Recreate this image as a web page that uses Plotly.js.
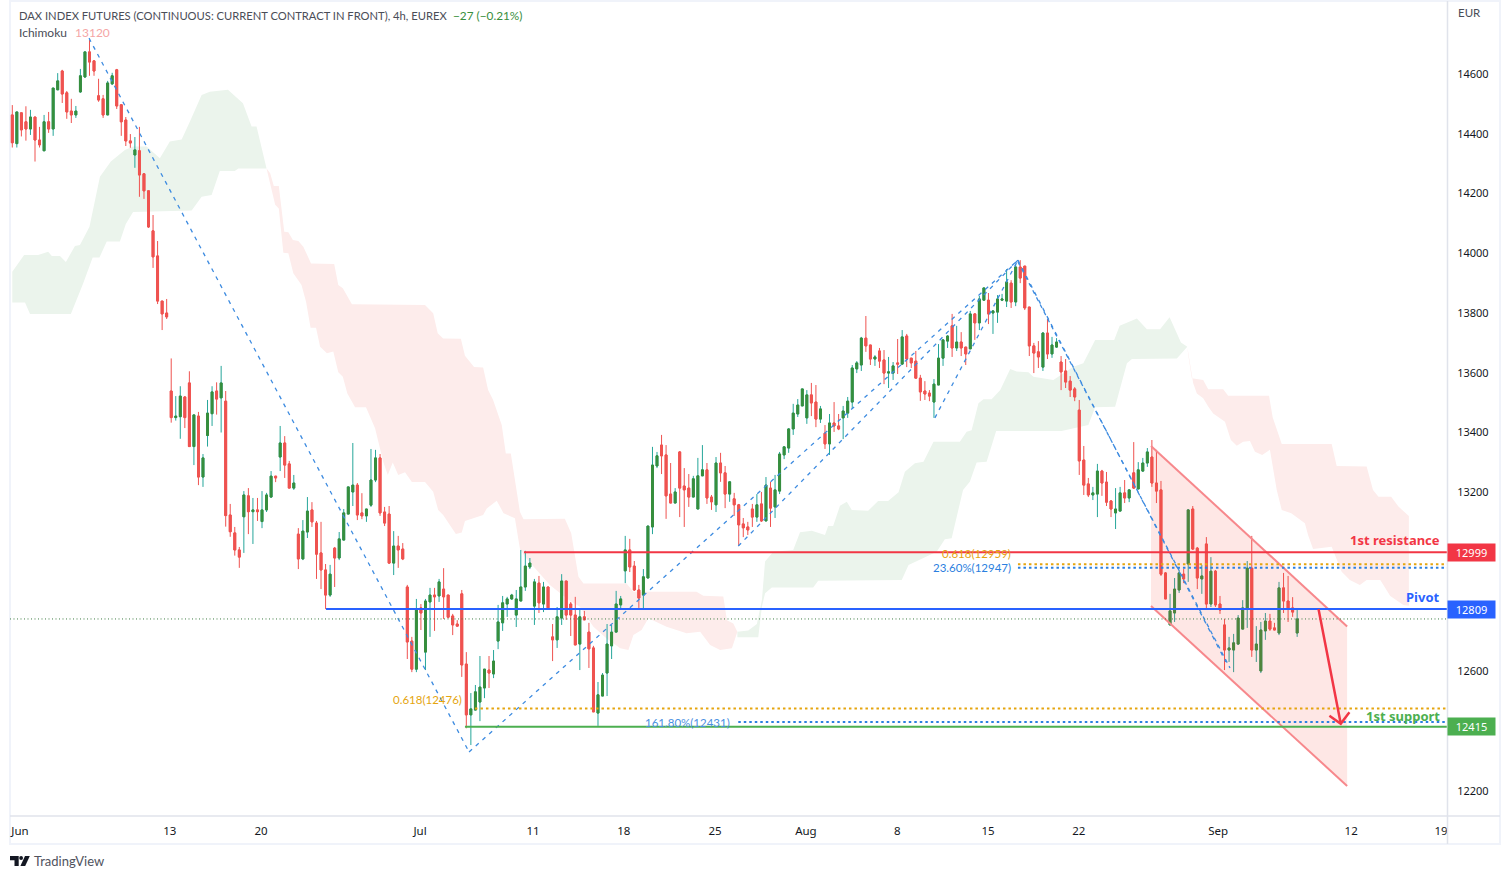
<!DOCTYPE html>
<html><head><meta charset="utf-8">
<script src="https://cdn.plot.ly/plotly-3.0.1.min.js"></script>
<style>html,body{margin:0;padding:0;background:#fff;overflow:hidden}#chart{width:1502px;height:878px}</style>
</head><body><div id="chart"></div>
<script>
const opens=[14463,14367,14470,14440,14416,14456,14379,14343,14440,14416,
14547,14610,14537,14476,14463,14540,14590,14674,14644,14527,
14517,14463,14567,14614,14497,14446,14376,14329,14343,14266,
14209,14075,13991,13840,13800,13539,13450,13453,13519,13566,
13353,13455,13251,13390,13463,13539,13516,13505,13124,13064,
13007,13118,13188,13135,13141,13102,13141,13184,13254,13318,
13365,13295,13214,13060,12977,13067,13141,13097,12997,12940,
12856,13013,12980,13040,13127,13201,13224,13131,13121,13157,
13241,13315,13134,13127,12963,13020,13010,12883,12702,12608,
12813,12665,12833,12856,12853,12876,12856,12786,12759,12860,
12625,12455,12471,12498,12545,12605,12592,12702,12763,12826,
12843,12789,12836,12883,12950,12819,12896,12826,12883,12716,
12706,12779,12903,12826,12789,12692,12783,12732,12679,12461,
12518,12595,12686,12732,12823,12937,13007,12953,12873,12856,
12913,13084,13288,13358,13325,13194,13164,13335,13221,13214,
13184,13144,13255,13275,13184,13158,13298,13265,13194,13178,
13158,13094,13084,13144,13117,13161,13104,13214,13151,13204,
13325,13348,13412,13462,13489,13449,13526,13502,13445,13398,
13362,13432,13422,13449,13465,13502,13613,13626,13716,13693,
13646,13673,13643,13599,13599,13633,13629,13723,13649,13639,
13582,13539,13532,13502,13559,13649,13706,13757,13683,13703,
13686,13680,13797,13767,13843,13843,13800,13803,13843,13840,
13900,13837,13954,13957,13820,13690,13670,13619,13733,13663,
13686,13636,13606,13572,13546,13475,13308,13228,13191,13194,
13271,13234,13171,13131,13137,13198,13181,13265,13211,13271,
13298,13318,13231,13208,12930,12756,12796,12873,12926,12960,
13144,13013,12910,13027,12826,12936,12826,12756,12672,12672,
12692,12742,12809,12946,12672,12602,12736,12769,12746,12729,
12880,12836,12813,12729];
const highs=[14496,14473,14470,14492,14480,14456,14423,14463,14473,14553,
14603,14614,14543,14517,14493,14617,14674,14714,14644,14584,
14530,14577,14604,14617,14497,14456,14399,14389,14423,14266,
14209,14128,14041,13840,13847,13648,13522,13555,13522,13605,
13459,13469,13328,13509,13555,13568,13623,13539,13161,13084,
13017,13204,13214,13181,13181,13204,13198,13271,13254,13422,
13388,13305,13258,13080,13107,13184,13167,13104,13101,12960,
12957,13017,13067,13144,13218,13365,13231,13197,13144,13345,
13342,13328,13151,13154,13070,13054,13030,12890,12716,12843,
12826,12843,12880,12880,12910,12946,12856,12793,12772,12873,
12665,12528,12555,12652,12608,12652,12672,12823,12853,12850,
12860,12873,13007,13004,12980,12910,12920,12900,12883,12759,
12816,12926,12903,12833,12850,12809,12803,12763,12686,12565,
12595,12759,12756,12870,12853,13054,13044,12970,12890,12943,
13087,13352,13335,13392,13358,13298,13214,13338,13281,13261,
13255,13315,13358,13298,13191,13318,13332,13288,13235,13198,
13161,13114,13101,13161,13194,13201,13251,13235,13258,13335,
13352,13415,13496,13512,13546,13542,13566,13559,13489,13425,
13462,13502,13462,13489,13519,13626,13639,13720,13790,13693,
13659,13683,13676,13653,13636,13713,13743,13730,13649,13673,
13593,13572,13542,13579,13696,13713,13726,13797,13757,13736,
13686,13807,13800,13857,13884,13867,13810,13860,13864,13947,
13910,13964,13977,13957,13820,13700,13706,13736,13780,13720,
13716,13656,13646,13589,13552,13509,13355,13248,13218,13295,
13275,13268,13174,13214,13218,13241,13211,13368,13301,13315,
13348,13375,13342,13238,12933,12860,12913,12940,12943,13144,
13154,13017,12957,13050,12983,12940,12853,12776,12716,12726,
12789,12839,12970,13054,12752,12766,12796,12793,12763,12900,
12930,12920,12849,12806];
const lows=[14354,14354,14391,14377,14396,14307,14354,14343,14403,14393,
14547,14503,14450,14436,14453,14537,14587,14594,14594,14507,
14453,14463,14563,14483,14393,14359,14353,14286,14189,14182,
14085,13951,13830,13743,13780,13433,13440,13379,13415,13353,
13291,13224,13218,13353,13422,13460,13400,13085,13051,12988,
12947,12997,13060,13027,13104,13080,13134,13181,13234,13271,
13248,13214,13208,12943,12973,13047,13084,12910,12876,12809,
12850,12883,12973,13040,13127,13154,13107,13110,13101,13151,
13234,13121,13087,12960,12923,12947,12973,12642,12598,12598,
12739,12605,12716,12736,12833,12776,12778,12722,12752,12582,
12410,12354,12471,12434,12511,12545,12578,12675,12736,12783,
12840,12749,12836,12870,12943,12756,12796,12799,12813,12635,
12679,12756,12773,12719,12689,12605,12773,12612,12465,12418,
12518,12518,12642,12732,12806,12896,12933,12870,12813,12809,
12913,13060,13281,13261,13111,13164,13164,13117,13084,13151,
13184,13144,13255,13161,13141,13134,13235,13147,13168,13121,
13020,13050,13057,13084,13101,13101,13104,13084,13114,13194,
13311,13332,13392,13452,13489,13429,13455,13418,13432,13345,
13325,13402,13408,13378,13449,13482,13599,13606,13670,13626,
13623,13616,13562,13549,13576,13596,13626,13619,13616,13582,
13506,13509,13505,13449,13559,13623,13683,13653,13673,13656,
13626,13680,13710,13743,13843,13763,13730,13767,13840,13820,
13817,13823,13900,13810,13656,13599,13616,13606,13646,13650,
13683,13542,13549,13519,13505,13258,13191,13184,13174,13117,
13188,13154,13117,13077,13137,13164,13167,13211,13211,13268,
13285,13218,13164,12920,12843,12756,12766,12863,12896,12900,
13007,12876,12860,12809,12816,12816,12793,12605,12632,12598,
12689,12742,12746,12649,12632,12595,12706,12736,12739,12722,
12796,12766,12783,12716];
const closes=[14370,14473,14413,14416,14456,14379,14363,14440,14416,14553,
14577,14533,14473,14463,14476,14594,14674,14640,14610,14513,
14463,14570,14594,14493,14440,14376,14369,14346,14262,14209,
14088,13988,13840,13797,13787,13450,13455,13522,13450,13353,
13459,13251,13315,13465,13536,13512,13566,13122,13068,13007,
12983,13191,13135,13141,13135,13141,13191,13254,13248,13365,
13291,13214,13231,12977,13070,13137,13101,12993,12940,12856,
12926,12980,13044,13131,13218,13224,13124,13121,13144,13241,
13315,13131,13097,12963,13020,13007,12977,12699,12608,12809,
12796,12836,12856,12850,12900,12850,12782,12756,12752,12622,
12455,12475,12532,12548,12608,12595,12635,12766,12830,12843,
12856,12843,12883,12953,12963,12900,12830,12883,12813,12706,
12783,12903,12789,12789,12689,12783,12773,12676,12465,12522,
12588,12692,12732,12826,12843,13007,12950,12873,12846,12917,
13087,13291,13322,13322,13188,13164,13201,13214,13208,13184,
13245,13255,13275,13181,13168,13298,13265,13194,13235,13158,
13091,13081,13074,13117,13158,13104,13224,13147,13208,13328,
13352,13412,13465,13492,13546,13526,13499,13445,13479,13362,
13432,13422,13412,13472,13505,13616,13633,13716,13690,13646,
13653,13639,13599,13603,13623,13629,13720,13646,13633,13582,
13536,13529,13522,13562,13649,13710,13723,13683,13703,13683,
13663,13797,13767,13847,13884,13797,13807,13847,13847,13904,
13837,13954,13917,13817,13690,13666,13653,13733,13663,13693,
13703,13603,13569,13542,13519,13305,13224,13191,13198,13271,
13231,13167,13144,13144,13198,13181,13208,13214,13275,13298,
13335,13231,13204,12926,12843,12803,12876,12930,12910,13141,
13010,12913,12920,12826,12936,12823,12806,12672,12679,12696,
12779,12813,12946,12672,12692,12739,12769,12742,12739,12880,
12836,12809,12799,12776];

// Ichimoku cloud outlines: bar position and price
const kumoGreen1X=[0,2.6,5.7,7.9,8.7,10.5,11.8,13.8,14.9,17,19.3,21.7,24.8,26.6,29.6,32.5,34.7,37.3,39.1,41.7,43.5,47.5,50.8,52.7,53.8,56,49.8,49,45.7,43.9,41.7,39.5,26.6,25,23.7,20.8,19.2,17.7,15.6,12.9,3.9,2.8,0];
const kumoGreen1Y=[13938,13994,13994,14005,13991,13991,13971,14024,14028,14089,14256,14307,14346,14357,14357,14318,14374,14381,14440,14530,14541,14547,14502,14424,14424,14284,14284,14275,14275,14195,14189,14143,14138,14098,14039,14039,13986,13986,13899,13797,13797,13835,13835];
const kumoRed1X=[56,56.8,57.6,58.7,59.9,60.8,61.8,63,64.1,65.8,70.9,71.8,72.8,74.8,90.9,92.7,93.7,94.9,98.8,99.7,101.7,103.7,104.8,105.9,107.8,108.7,109.8,111.8,112.6,121.7,123.1,124.7,125.8,135.3,136.8,150.7,152.2,156.6,157.4,158.8,159.7,158.5,155.9,153.7,151.5,148.5,144.1,140.1,138.6,136.8,135.7,133.9,130.9,128,125,122.5,118.4,112.9,111.8,110.7,108.2,106.7,104.5,103.7,99.7,99,97.7,94.9,93.8,92.7,90.9,88,86.5,85,83.8,82.7,81.7,79.9,77.9,75.5,73.8,72.8,71.8,70.7,69.3,67.8,66.9,65.7,64.7,63.7,61.9,60.8,59.7,58.7,57.9,56];
const kumoRed1Y=[14284,14268,14225,14225,14072,14070,14044,14041,14022,13966,13964,13894,13883,13829,13827,13799,13732,13715,13714,13657,13619,13618,13542,13509,13425,13330,13330,13135,13110,13111,13063,12917,12895,12895,12867,12867,12854,12851,12772,12761,12733,12678,12672,12689,12733,12728,12750,12778,12739,12722,12672,12678,12711,12750,12817,12840,12890,12984,13012,13113,13130,13172,13146,13124,13104,13065,13060,13124,13141,13202,13234,13234,13267,13258,13300,13258,13302,13414,13485,13485,13531,13587,13602,13671,13665,13687,13751,13751,13838,13894,13933,14000,14002,14150,14162,14284];
const kumoGreen2X=[159.7,162.1,164,165.1,165.8,167.6,172,173.5,176.1,179,179.7,180.8,182.3,183.8,184.9,188.5,190.7,192.9,195.2,196.6,198.8,200.7,202.9,208.7,210.2,211.3,212.8,213.9,215.7,217.6,219.8,221.2,223.8,224.9,229.3,233.7,235.9,238.5,242.7,243.9,247.7,249.9,252.8,254.9,257.4,258.8,256.5,246.6,245.5,242.9,238.5,237,231.1,216.7,214.6,212.4,210.9,209.4,206.9,205.4,203.6,197.4,195.9,177.5,176.4,167.3,165.8,165.1,164.3,159.7];
const kumoGreen2Y=[12733,12737,12759,12839,12968,13001,13007,13066,13071,13057,13087,13087,13155,13168,13141,13138,13171,13171,13200,13269,13297,13302,13369,13369,13403,13408,13498,13511,13511,13542,13613,13604,13602,13587,13576,13620,13632,13710,13710,13757,13782,13746,13746,13786,13701,13687,13648,13646,13632,13486,13485,13425,13405,13405,13302,13300,13235,13208,13046,13043,13001,12957,12906,12904,12881,12881,12862,12817,12715,12715];
const kumoRed2X=[258.8,259,259.8,262.3,263.4,266.7,267.8,276.8,277.6,279.6,290.6,291.7,298.3,299.7,300.9,303.7,305.3,307.6,307.6,306.4,303.5,301.3,298.3,296.8,294.6,292.8,290.6,286.5,285.4,284.7,281.7,279.6,278.5,277,275.3,273.7,272.6,271.1,269.7,268.4,267.1,264.5,263.4,262.3,260.9,260.1,258.8];
const kumoRed2Y=[13687,13660,13582,13576,13545,13545,13523,13523,13451,13362,13362,13288,13286,13208,13185,13185,13152,13121,12820,12823,12853,12906,12906,12890,12906,12934,13018,13010,13057,13096,13130,13141,13208,13342,13325,13336,13372,13369,13356,13375,13436,13464,13487,13515,13531,13565,13687];

// Time axis
const tickPos=[1.7,34.7,54.8,89.8,114.7,134.7,154.8,174.8,194.9,214.9,234.9,265.6,294.9,314.7];
const tickText=['Jun','13','20','Jul','11','18','25','Aug','8','15','22','Sep','12','19'];
const priceTicks=[12200,12600,13200,13400,13600,13800,14000,14200,14400,14600];

// Levels
const lastPrice=12776, resistance=12999, pivot=12809, support=12415;
const fibA=12476, fibB=12431, fibC=12959, fibD=12947;

// Drawings
const peakX=221.5, peakP=13977;
const leg1X=[16.9,100.6], leg1P=[14720,12331];
const leg2X=[100.6,peakX], leg2P=[12331,peakP];
const leg3X=[159.9,peakX], leg3P=[13020,peakP];
const leg4X=[203.2,peakX], leg4P=[13449,peakP];
const leg5X=[peakX,267.3], leg5P=[peakP,12632];
const leg6X=[peakX,268.2], leg6P=[peakP-6,12612];
const channelTopX=[250.8,294], channelTopP=[13355,12751];
const channelBotX=[250.8,294], channelBotP=[12819,12217];
const arrowX=[287.7,292.6,290.1,292.6,294.5], arrowP=[12809,12425,12452,12425,12464];

const xRange=[-0.507,316], yRange=[12116.5,14841];
const px=v=>(v-10)/1437, py=v=>(816-v)/814;
const FONT='"Noto Sans", sans-serif', LBL='Lato, "Noto Sans", sans-serif';
const RED='#ef5350', GRN='#388e3c', TEAL='#26a69a';
const KG='#ebf4ec', KR='#fdeceb';

const xs=opens.map((_,i)=>i);
const bodyHi=opens.map((o,i)=>Math.max(o,closes[i]));
const bodyLo=opens.map((o,i)=>Math.min(o,closes[i]));

const kumo=(x,y,c)=>({type:'scatter',mode:'lines',x,y,fill:'toself',fillcolor:c,line:{width:0},hoverinfo:'skip',xaxis:'x',yaxis:'y'});
const ln=(x,y,color,width,dash)=>({type:'scatter',mode:'lines',x,y,line:{color,width,dash:dash||'solid'},hoverinfo:'skip',xaxis:'x2',yaxis:'y2'});
const DASH='4px,5px', DOT='2.5px,3px', BL='#3d8be0';

const data=[
 kumo(kumoGreen1X,kumoGreen1Y,KG),kumo(kumoRed1X,kumoRed1Y,KR),kumo(kumoGreen2X,kumoGreen2Y,KG),kumo(kumoRed2X,kumoRed2Y,KR),
 {type:'candlestick',x:xs,open:opens,high:highs,low:lows,close:closes,whiskerwidth:0,
  increasing:{line:{color:TEAL,width:1},fillcolor:TEAL},decreasing:{line:{color:RED,width:1},fillcolor:RED},hoverinfo:'skip',xaxis:'x2',yaxis:'y2'},
 {type:'candlestick',x:xs,open:opens,high:bodyHi,low:bodyLo,close:closes,whiskerwidth:0,
  increasing:{line:{color:GRN,width:1},fillcolor:GRN},decreasing:{line:{color:RED,width:1},fillcolor:RED},hoverinfo:'skip',xaxis:'x2',yaxis:'y2'},
 {type:'scatter',mode:'lines',x:[channelTopX[0],channelTopX[1],channelBotX[1],channelBotX[0],channelTopX[0]],y:[channelTopP[0],channelTopP[1],channelBotP[1],channelBotP[0],channelTopP[0]],
  fill:'toself',fillcolor:'rgba(244,67,54,0.13)',line:{width:0},hoverinfo:'skip',xaxis:'x2',yaxis:'y2'},
 ln(channelTopX,channelTopP,'#f7888c',2),ln(channelBotX,channelBotP,'#f7888c',2),
 ln(leg1X,leg1P,BL,1.3,DASH),ln(leg2X,leg2P,BL,1.3,DASH),ln(leg3X,leg3P,BL,1.3,DASH),ln(leg4X,leg4P,BL,1.3,DASH),ln(leg5X,leg5P,BL,1.3,DASH),ln(leg6X,leg6P,BL,1.3,'4px,4px'),
 ln(xRange,[lastPrice,lastPrice],'#3f7d44',1,'1px,2.5px'),
 ln([101.9,316],[fibA,fibA],'#e5a50f',2,DOT),ln([159.9,316],[fibB,fibB],'#2b7fe0',2,DOT),
 ln([221.5,316],[fibC,fibC],'#e5a50f',2,DOT),ln([221.5,316],[fibD,fibD],'#2b7fe0',2,DOT),
 ln([112.7,316],[resistance,resistance],'#f23645',2),ln([69.1,316],[pivot,pivot],'#2962ff',2),ln([99.7,316],[support,support],'#4caf50',2),
 ln(arrowX,arrowP,'#f23645',2.5)
];

const txt=(x,y,text,color,anchor,size,fam)=>({xref:'paper',yref:'paper',x:px(x),y:py(y),text,showarrow:false,xanchor:anchor||'left',yanchor:'middle',font:{family:fam||LBL,size:size||12,color},borderpad:0});
const tag=(p,text,c)=>({xref:'paper',yref:'y',x:1,xshift:0,y:p,text,showarrow:false,xanchor:'left',yanchor:'middle',width:46,height:16,bgcolor:c,font:{family:FONT,size:11,color:'#fff'},borderpad:0.5});

const annotations=[
 txt(18,15,'DAX INDEX FUTURES (CONTINUOUS: CURRENT CONTRACT IN FRONT), 4h, EUREX','#4a4d57','left',11.2),
 txt(452,15,'−27 (−0.21%)','#388e3c','left',11.8),
 txt(18,32,'Ichimoku','#4a4d57','left',12),
 txt(74,32,'13120','#f5a6a6','left',12),
 txt(1457,13,'EUR','#4a4d57','left',11.5),
 txt(33,861,'TradingView','#50535e','left',13),
 txt(1441,540,'<b>1st resistance</b>','#f23645','right',13,FONT),
 txt(1441,597,'<b>Pivot</b>','#2962ff','right',13,FONT),
 txt(1441,716,'<b>1st support</b>','#4caf50','right',13,FONT),
 txt(463,699,'0.618(12476)','#e5a50f','right',11.5),
 txt(731,722,'161.80%(12431)','#4a90e2','right',11.5),
 txt(1012,553,'0.618(12959)','#e5a50f','right',11.5),
 txt(1012,568,'23.60%(12947)','#2b7fe0','right',11.5),
 tag(resistance,'12999','#f23645'),tag(pivot,'12809','#2962ff'),tag(support,'12415','#4caf50')
];

const pth=(pts)=>'M'+pts.map(p=>px(p[0])+' '+py(p[1])).join(' L')+' Z';
const logo=(pts)=>({type:'path',xref:'paper',yref:'paper',path:pth(pts),fillcolor:'#131722',line:{width:0},layer:'above'});
const shapes=[
 {type:'rect',xref:'paper',yref:'paper',x0:px(10),x1:px(1500),y0:py(1),y1:py(844),line:{color:'#f0f3fa',width:2},layer:'below'},
 {type:'line',xref:'paper',yref:'paper',x0:px(10),x1:px(1500),y0:py(816),y1:py(816),line:{color:'#e0e3eb',width:1.5}},
 {type:'line',xref:'paper',yref:'paper',x0:px(1447.5),x1:px(1447.5),y0:py(1),y1:py(844),line:{color:'#e0e3eb',width:1.5}},
 logo([[10,856],[18.7,856],[18.7,866],[14.5,866],[14.5,860.3],[10,860.3]]),
 {type:'circle',xref:'paper',yref:'paper',x0:px(19.2),x1:px(23),y0:py(856),y1:py(860),fillcolor:'#131722',line:{width:0}},
 logo([[25,856],[29.8,856],[25.2,866],[20.4,866]])
];

const layout={
 width:1502,height:878,paper_bgcolor:'#fff',plot_bgcolor:'#fff',showlegend:false,dragmode:false,
 margin:{l:10,r:55,t:2,b:62,pad:0},boxgap:0.4,boxmode:'overlay',
 xaxis:{range:xRange,type:'linear',tickmode:'array',tickvals:tickPos,ticktext:tickText,showgrid:false,zeroline:false,showline:false,ticks:'outside',ticklen:4,tickcolor:'rgba(0,0,0,0)',tickfont:{family:FONT,size:11.5,color:'#131722'},rangeslider:{visible:false},fixedrange:true},
 yaxis:{range:yRange,type:'linear',side:'right',tickmode:'array',tickvals:priceTicks,ticktext:priceTicks.map(String),showgrid:false,zeroline:false,showline:false,ticks:'outside',ticklen:7,tickcolor:'rgba(0,0,0,0)',tickfont:{family:FONT,size:11,color:'#131722'},fixedrange:true},
 xaxis2:{range:xRange,type:'linear',overlaying:'x',visible:false,rangeslider:{visible:false},fixedrange:true},
 yaxis2:{range:yRange,type:'linear',overlaying:'y',side:'right',visible:false,fixedrange:true},
 annotations,shapes
};
Plotly.newPlot('chart',data,layout,{displayModeBar:false,staticPlot:true});
</script></body></html>
